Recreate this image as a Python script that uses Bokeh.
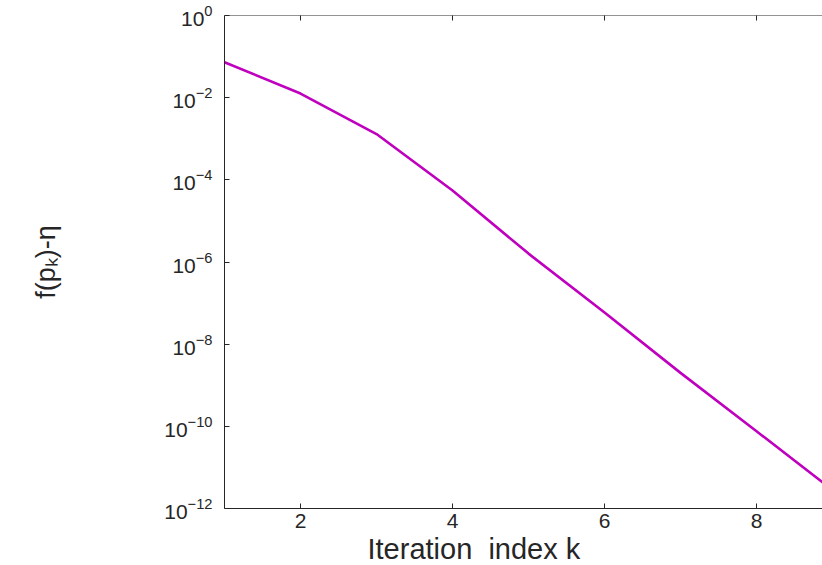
import math
from bokeh.plotting import figure
from bokeh.models import FixedTicker, Range1d, Span, Title
from bokeh.embed import file_html
from bokeh.resources import INLINE

# ---- data ----
iters = [1, 2, 3, 4, 5, 6, 7, 8, 9]
gap = [7.3e-2, 1.26e-2, 1.3e-3, 5.5e-5, 1.6e-6, 5.9e-8, 2.0e-9, 7.6e-11, 2.8e-12]
x_ticks = [2, 4, 6, 8]
y_ticks = [1e-12, 1e-10, 1e-8, 1e-6, 1e-4, 1e-2, 1e0]
x_title = "Iteration\u00a0 index k"
y_title = "f(p\u2096)-\u03b7"

AX = "#262626"
FONT = "Liberation Sans"
Y_TOP = 1e0

p = figure(width=822, height=565, y_axis_type="log",
           x_range=Range1d(1, 8.868), y_range=Range1d(1e-12, Y_TOP),
           output_backend="svg", toolbar_location=None,
           min_border_left=224, min_border_top=15, min_border_right=0,
           min_border_bottom=57)
p.frame_width = 598
p.frame_height = 493
p.outline_line_color = None
p.grid.visible = False
p.background_fill_color = "white"
p.border_fill_color = "white"

p.line(iters, gap, line_color="#BF00BF", line_width=2.6)

xa = p.xaxis[0]
xa.ticker = FixedTicker(ticks=x_ticks, minor_ticks=[])
xa.major_tick_in = 5
xa.major_tick_out = 0
xa.minor_tick_line_color = None
xa.axis_line_color = AX
xa.major_tick_line_color = AX
xa.major_label_text_font = FONT
xa.major_label_text_font_size = "21px"
xa.major_label_text_color = AX
xa.major_label_standoff = 5

ya = p.yaxis[0]
ya.ticker = FixedTicker(ticks=y_ticks, minor_ticks=[])
ya.major_tick_in = 5
ya.major_tick_out = 0
ya.minor_tick_line_color = None
ya.axis_line_color = AX
ya.major_tick_line_color = AX
ya.major_label_text_font = FONT
ya.major_label_text_font_size = "21px"
ya.major_label_text_color = AX
ya.major_label_standoff = 12
ya.axis_label = y_title
ya.axis_label_text_font = FONT
ya.axis_label_text_font_size = "27px"
ya.axis_label_text_font_style = "normal"
ya.axis_label_text_color = AX
ya.axis_label_standoff = 100

# top box edge with inward ticks
p.add_layout(Span(location=Y_TOP, dimension="width", line_color=AX, line_width=1))
p.scatter(x_ticks, [Y_TOP] * len(x_ticks), marker="dash", angle=math.pi / 2,
          size=10, line_color=AX, line_width=1)

# x-axis title
p.add_layout(Title(text=x_title, align="left", offset=143, standoff=0,
                   text_font=FONT, text_font_size="29px",
                   text_font_style="normal", text_color=AX), "below")

open("out.html", "w").write(file_html(p, INLINE))
